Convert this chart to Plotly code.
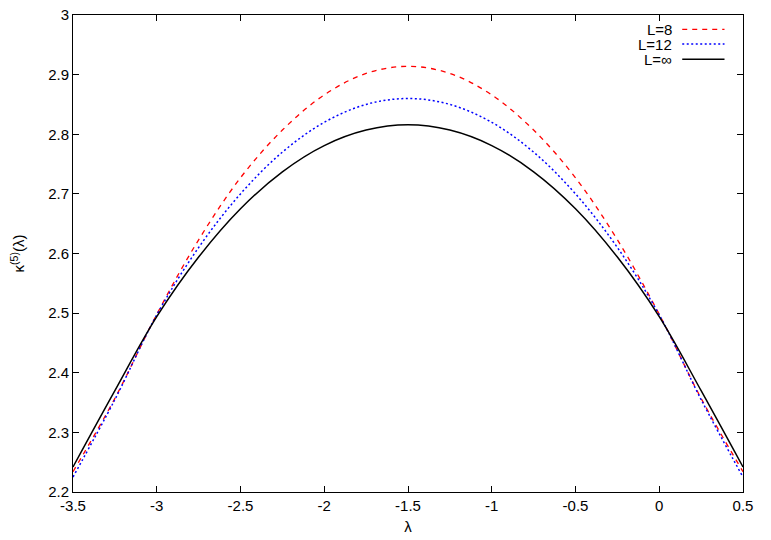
import plotly.graph_objects as go

# lambda grid and kappa^(5)(lambda) values
lam = [-3.5, -3.25, -3.0, -2.75, -2.5, -2.25, -2.0, -1.75, -1.5,
       -1.25, -1.0, -0.75, -0.5, -0.25, 0.0, 0.25, 0.5]
kappa_L8 = [2.234, 2.357, 2.498, 2.623, 2.727, 2.807, 2.866, 2.902, 2.914,
            2.902, 2.866, 2.807, 2.727, 2.623, 2.498, 2.357, 2.234]
kappa_L12 = [2.225, 2.355, 2.497, 2.610, 2.700, 2.770, 2.820, 2.850, 2.860,
             2.850, 2.820, 2.770, 2.700, 2.610, 2.497, 2.355, 2.225]
kappa_inf = [2.242, 2.370, 2.494, 2.594, 2.675, 2.737, 2.781, 2.807, 2.816,
             2.807, 2.781, 2.737, 2.675, 2.594, 2.494, 2.370, 2.242]

x_ticks = [-3.5, -3.0, -2.5, -2.0, -1.5, -1.0, -0.5, 0.0, 0.5]
x_ticktext = ["-3.5", "-3", "-2.5", "-2", "-1.5", "-1", "-0.5", "0", "0.5"]
y_ticks = [2.2, 2.3, 2.4, 2.5, 2.6, 2.7, 2.8, 2.9, 3.0]
y_ticktext = ["2.2", "2.3", "2.4", "2.5", "2.6", "2.7", "2.8", "2.9", "3"]

series = [
    ("L=8", kappa_L8, "#ff0000", "5px,5px", 1.3),
    ("L=12", kappa_L12, "#0000ff", "2px,2.5px", 1.5),
    ("L=\u221e", kappa_inf, "#000000", "solid", 1.5),
]

FONT = "Liberation Sans, Arial, sans-serif"
FSIZE = 15

fig = go.Figure()
for name, vals, color, dash, width in series:
    fig.add_trace(go.Scatter(
        x=lam, y=vals, mode="lines", name=name,
        line=dict(color=color, dash=dash, width=width, shape="spline", smoothing=1.0),
        showlegend=False,
    ))

# gnuplot-style key: text on the left, line sample on the right
row_y = [0.970, 0.939, 0.907]
for (name, vals, color, dash, width), yy in zip(series, row_y):
    fig.add_annotation(
        text=name, xref="paper", yref="paper", x=0.8953, y=yy,
        xanchor="right", yanchor="middle", showarrow=False, borderpad=0,
        font=dict(family=FONT, size=FSIZE, color="black"),
    )
    fig.add_shape(
        type="line", xref="paper", yref="paper",
        x0=0.9093, x1=0.9724, y0=yy, y1=yy,
        line=dict(color=color, dash=dash, width=width),
    )

axis_common = dict(
    showline=True, linecolor="black", linewidth=1, mirror="ticks",
    ticks="inside", ticklen=6, tickcolor="black", tickwidth=1,
    showgrid=False, zeroline=False, automargin=False,
    ticklabeloverflow="allow",
    tickfont=dict(family=FONT, size=FSIZE, color="black"),
)

fig.update_xaxes(
    range=[-3.5, 0.5], tickvals=x_ticks, ticktext=x_ticktext,
    title=dict(text="\u03bb", font=dict(family=FONT, size=FSIZE, color="black"), standoff=8),
    **axis_common,
)
fig.update_yaxes(
    range=[2.2, 3.0], tickvals=y_ticks, ticktext=y_ticktext,
    title=dict(text="\u03ba<sup>(5)</sup>(\u03bb)", font=dict(family=FONT, size=FSIZE, color="black"), standoff=26),
    **axis_common,
)

# the page body adds an 8px offset, so the figure is a bit smaller than the window
fig.update_layout(
    width=763, height=532,
    margin=dict(l=65, r=28, t=7, b=48),
    plot_bgcolor="white", paper_bgcolor="white",
    font=dict(family=FONT, size=FSIZE, color="black"),
)

fig.write_html("out.html")
